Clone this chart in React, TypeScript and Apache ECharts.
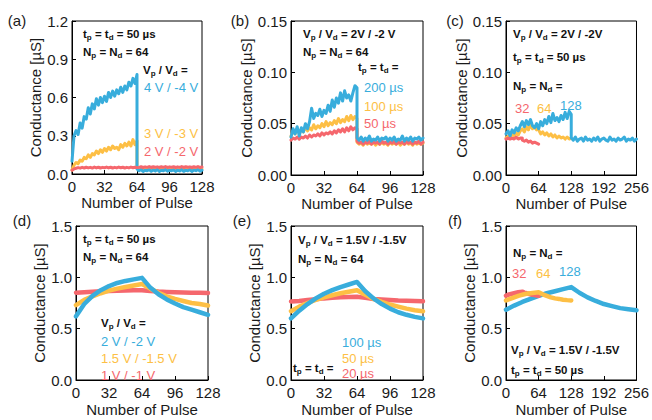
import React, { useEffect, useRef } from 'react';
import * as echarts from 'echarts';

const FONT = '"Liberation Sans", Arial, Helvetica, sans-serif';
const BLUE = '#38ADDC';
const ORANGE = '#FDBF45';
const RED = '#F5676D';
const INK = '#1a1a1a';

// ---------- Panel (a): Vp/Vd sweep, step 2 pulses ----------
const A_BLUE_POT = [0.10,0.30,0.34,0.31,0.40,0.36,0.45,0.43,0.52,0.47,0.55,0.51,0.59,0.54,0.60,0.56,0.61,0.57,0.64,0.60,0.65,0.61,0.66,0.63,0.68,0.64,0.69,0.66,0.72,0.69,0.75,0.71,0.78];
const A_BLUE_DEP = [0.04,0.025,0.035,0.02,0.03,0.026,0.034,0.021,0.032,0.024,0.036,0.02,0.029,0.025,0.035,0.022,0.03,0.026,0.033,0.02,0.031,0.024,0.035,0.021,0.03,0.025,0.034,0.02,0.031,0.026,0.035,0.022,0.03];
const A_YEL_POT = [0.03,0.07,0.09,0.08,0.11,0.10,0.13,0.12,0.15,0.13,0.16,0.15,0.18,0.16,0.19,0.17,0.20,0.18,0.21,0.19,0.22,0.20,0.21,0.19,0.23,0.21,0.24,0.22,0.25,0.22,0.27,0.23,0.26];
const A_YEL_DEP = [0.05,0.042,0.038,0.044,0.037,0.043,0.039,0.045,0.038,0.042,0.036,0.044,0.04,0.043,0.037,0.045,0.039,0.042,0.038,0.044,0.037,0.043,0.04,0.045,0.038,0.042,0.037,0.044,0.039,0.043,0.038,0.044,0.04];
const A_RED_POT = [0.03,0.04,0.045,0.05,0.046,0.052,0.047,0.053,0.048,0.052,0.047,0.054,0.048,0.053,0.047,0.052,0.049,0.054,0.048,0.053,0.047,0.052,0.048,0.054,0.049,0.053,0.047,0.052,0.048,0.054,0.049,0.053,0.05];
const A_RED_DEP = [0.055,0.052,0.057,0.051,0.056,0.052,0.058,0.051,0.057,0.053,0.056,0.051,0.057,0.052,0.058,0.051,0.056,0.053,0.057,0.051,0.056,0.052,0.058,0.051,0.057,0.053,0.056,0.051,0.057,0.052,0.058,0.051,0.055];

// ---------- Panel (b): pulse width sweep, step 2 pulses ----------
const B_BLUE_POT = [0.037,0.045,0.040,0.047,0.038,0.046,0.042,0.050,0.045,0.052,0.065,0.055,0.060,0.058,0.064,0.057,0.063,0.060,0.068,0.062,0.073,0.066,0.075,0.070,0.080,0.072,0.082,0.075,0.078,0.072,0.080,0.087,0.085];
const B_BLUE_DEP = [0.036,0.034,0.037,0.033,0.036,0.034,0.038,0.033,0.035,0.034,0.037,0.033,0.036,0.035,0.037,0.033,0.036,0.034,0.037,0.033,0.035,0.034,0.038,0.033,0.036,0.034,0.037,0.033,0.036,0.035,0.037,0.034,0.036];
const B_YEL_POT = [0.038,0.043,0.040,0.045,0.041,0.044,0.042,0.047,0.043,0.046,0.044,0.049,0.045,0.048,0.046,0.050,0.047,0.052,0.048,0.051,0.049,0.053,0.050,0.055,0.051,0.054,0.052,0.057,0.053,0.058,0.054,0.057,0.055];
const B_YEL_DEP = [0.032,0.030,0.031,0.029,0.032,0.030,0.031,0.030,0.032,0.029,0.031,0.030,0.032,0.030,0.031,0.029,0.032,0.030,0.031,0.030,0.032,0.029,0.031,0.030,0.032,0.030,0.031,0.029,0.032,0.030,0.031,0.030,0.031];
const B_RED_POT = [0.034,0.036,0.035,0.037,0.035,0.037,0.036,0.038,0.036,0.039,0.037,0.039,0.038,0.040,0.038,0.041,0.039,0.041,0.040,0.042,0.040,0.043,0.041,0.044,0.042,0.045,0.042,0.046,0.043,0.047,0.044,0.046,0.045];
const B_RED_DEP = [0.033,0.031,0.032,0.030,0.032,0.031,0.033,0.030,0.032,0.031,0.032,0.030,0.033,0.031,0.032,0.030,0.032,0.031,0.033,0.030,0.032,0.031,0.032,0.030,0.033,0.031,0.032,0.030,0.032,0.031,0.033,0.030,0.032];

// ---------- Panel (c): pulse number sweep, step 4 pulses ----------
const C_BLUE_POT = [0.040,0.043,0.038,0.044,0.041,0.046,0.043,0.048,0.052,0.047,0.053,0.049,0.054,0.048,0.046,0.050,0.045,0.052,0.048,0.054,0.050,0.057,0.051,0.060,0.053,0.056,0.052,0.058,0.054,0.061,0.055,0.062,0.059];
const C_BLUE_DEP = [0.036,0.034,0.037,0.033,0.035,0.036,0.033,0.037,0.034,0.035,0.033,0.036,0.034,0.037,0.033,0.035,0.036,0.034,0.033,0.037,0.034,0.035,0.033,0.036,0.034,0.035,0.037,0.033,0.035,0.034,0.036,0.033,0.035];
const C_YEL_POT = [0.036,0.038,0.037,0.040,0.038,0.041,0.039,0.043,0.045,0.042,0.047,0.044,0.049,0.045,0.047,0.044,0.046];
const C_YEL_DEP = [0.044,0.040,0.042,0.039,0.041,0.038,0.040,0.037,0.039,0.036,0.038,0.036,0.037,0.035,0.037,0.035,0.036];
const C_RED_POT = [0.035,0.036,0.035,0.036,0.035,0.037,0.035,0.036,0.036];
const C_RED_DEP = [0.034,0.033,0.034,0.032,0.033,0.031,0.032,0.031,0.030];

// ---------- Panel (d): step 8 pulses ----------
const D_BLUE = [0.62,0.74,0.82,0.875,0.915,0.945,0.965,0.98,0.995,0.90,0.835,0.785,0.745,0.71,0.685,0.66,0.635];
const D_YEL = [0.73,0.78,0.815,0.845,0.87,0.89,0.905,0.92,0.935,0.89,0.85,0.815,0.79,0.77,0.75,0.74,0.725];
const D_RED = [0.85,0.855,0.86,0.865,0.867,0.87,0.872,0.873,0.875,0.868,0.862,0.858,0.855,0.853,0.851,0.85,0.848];

// ---------- Panel (e): step 8 pulses ----------
const E_BLUE = [0.60,0.675,0.74,0.795,0.84,0.875,0.905,0.93,0.955,0.865,0.795,0.74,0.695,0.66,0.635,0.615,0.60];
const E_YEL = [0.67,0.715,0.75,0.78,0.805,0.825,0.845,0.86,0.875,0.83,0.79,0.76,0.735,0.715,0.695,0.68,0.67];
const E_RED = [0.765,0.77,0.78,0.787,0.795,0.80,0.805,0.808,0.81,0.80,0.79,0.785,0.78,0.775,0.772,0.77,0.768];

// ---------- Panel (f) ----------
const F_BLUE = [0.685,0.725,0.76,0.79,0.82,0.845,0.865,0.885,0.905,0.85,0.805,0.77,0.74,0.72,0.70,0.69,0.68]; // step 16
const F_YEL = [0.775,0.79,0.805,0.82,0.83,0.84,0.845,0.85,0.855,0.835,0.82,0.805,0.795,0.79,0.782,0.778,0.775]; // step 8
const F_RED = [0.82,0.83,0.835,0.84,0.845,0.85,0.855,0.858,0.86,0.852,0.845,0.84,0.835,0.83,0.827,0.823,0.82]; // step 4

const PANELS = [
  { left: 72, top: 21, width: 130, height: 153, xMax: 128, xInt: 32, yMax: 1.2, yInt: 0.3, dec: 1, yGap: 24, xGap: 19 },
  { left: 291, top: 21, width: 132, height: 154, xMax: 128, xInt: 32, yMax: 0.15, yInt: 0.05, dec: 2, yGap: 31, xGap: 19 },
  { left: 506, top: 21, width: 131, height: 154, xMax: 256, xInt: 64, yMax: 0.15, yInt: 0.05, dec: 2, yGap: 33, xGap: 19 },
  { left: 76, top: 226, width: 132, height: 154, xMax: 128, xInt: 32, yMax: 1.5, yInt: 0.5, dec: 1, yGap: 23, xGap: 22 },
  { left: 291, top: 226, width: 132, height: 154, xMax: 128, xInt: 32, yMax: 1.5, yInt: 0.5, dec: 1, yGap: 25, xGap: 22 },
  { left: 506, top: 226, width: 131, height: 154, xMax: 256, xInt: 64, yMax: 1.5, yInt: 0.5, dec: 1, yGap: 25, xGap: 22 },
];

const seq = (start: number, step: number, values: number[]) => values.map((v, i) => [start + i * step, v]);

const line = (g: number, color: string, data: number[][], width: number) => ({
  type: 'line',
  xAxisIndex: g,
  yAxisIndex: g,
  data,
  symbol: 'none',
  showSymbol: false,
  silent: true,
  lineStyle: { color, width, join: 'round', cap: 'round' },
  itemStyle: { color },
});

const richStyles = {
  b: { fontFamily: FONT, fontSize: 11.5, fontWeight: 'bold', fill: '#111', lineHeight: 15 },
  s: { fontFamily: FONT, fontSize: 8, fontWeight: 'bold', fill: '#111', lineHeight: 8, verticalAlign: 'bottom' },
};

const boldText = (x: number, y: number, str: string) => {
  const rich = str
    .split(/(_[a-z])/)
    .filter((p) => p.length > 0)
    .map((p) => (p.startsWith('_') ? `{s|${p.slice(1)}}` : `{b|${p}}`))
    .join('');
  return {
    type: 'text',
    x,
    y,
    silent: true,
    style: { text: rich, rich: richStyles, align: 'left', verticalAlign: 'middle' },
  };
};

const colText = (x: number, y: number, str: string, color: string) => ({
  type: 'text',
  x,
  y,
  silent: true,
  style: { text: str, fill: color, fontFamily: FONT, fontSize: 13, align: 'left', verticalAlign: 'middle' },
});

const panelLabel = (x: number, y: number, str: string) => ({
  type: 'text',
  x,
  y,
  silent: true,
  style: { text: str, fill: INK, fontFamily: FONT, fontSize: 15, align: 'center', verticalAlign: 'middle' },
});

function buildOption() {
  const grid = PANELS.map((p) => ({
    left: p.left,
    top: p.top,
    width: p.width,
    height: p.height,
    show: true,
    borderColor: '#000',
    borderWidth: 1,
    backgroundColor: 'transparent',
    containLabel: false,
  }));
  const xAxis = PANELS.map((p, i) => ({
    type: 'value',
    gridIndex: i,
    min: 0,
    max: p.xMax,
    interval: p.xInt,
    name: 'Number of Pulse',
    nameLocation: 'middle',
    nameGap: p.xGap,
    nameTextStyle: { fontFamily: FONT, fontSize: 15, color: INK },
    axisLine: { show: true, onZero: false, lineStyle: { color: '#000', width: 1 } },
    axisTick: { show: true, inside: true, length: 4, lineStyle: { color: '#000' } },
    axisLabel: { fontFamily: FONT, fontSize: 15, color: INK, margin: 5 },
    splitLine: { show: false },
  }));
  const yAxis = PANELS.map((p, i) => ({
    type: 'value',
    gridIndex: i,
    min: 0,
    max: p.yMax,
    interval: p.yInt,
    name: 'Conductance [µS]',
    nameLocation: 'middle',
    nameRotate: 90,
    nameGap: p.yGap,
    nameTextStyle: { fontFamily: FONT, fontSize: 15, color: INK },
    axisLine: { show: true, onZero: false, lineStyle: { color: '#000', width: 1 } },
    axisTick: { show: true, inside: true, length: 4, lineStyle: { color: '#000' } },
    axisLabel: { fontFamily: FONT, fontSize: 15, color: INK, margin: 4, formatter: (v: number) => v.toFixed(p.dec) },
    splitLine: { show: false },
  }));

  const series = [
    // (a)
    line(0, ORANGE, [...seq(0, 2, A_YEL_POT), ...seq(64, 2, A_YEL_DEP)], 3),
    line(0, BLUE, [...seq(0, 2, A_BLUE_POT), ...seq(64, 2, A_BLUE_DEP)], 3),
    line(0, RED, [...seq(0, 2, A_RED_POT), ...seq(64, 2, A_RED_DEP)], 3),
    // (b)
    line(1, ORANGE, [...seq(0, 2, B_YEL_POT), ...seq(64, 2, B_YEL_DEP)], 3),
    line(1, RED, [...seq(0, 2, B_RED_POT), ...seq(64, 2, B_RED_DEP)], 3),
    line(1, BLUE, [...seq(0, 2, B_BLUE_POT), ...seq(64, 2, B_BLUE_DEP)], 3),
    // (c)
    line(2, ORANGE, [...seq(0, 4, C_YEL_POT), ...seq(64, 4, C_YEL_DEP)], 3),
    line(2, BLUE, [...seq(0, 4, C_BLUE_POT), ...seq(128, 4, C_BLUE_DEP)], 3),
    line(2, RED, [...seq(0, 4, C_RED_POT), ...seq(32, 4, C_RED_DEP)], 3),
    // (d)
    line(3, RED, seq(0, 8, D_RED), 4.5),
    line(3, ORANGE, seq(0, 8, D_YEL), 4.5),
    line(3, BLUE, seq(0, 8, D_BLUE), 4.5),
    // (e)
    line(4, RED, seq(0, 8, E_RED), 4.5),
    line(4, ORANGE, seq(0, 8, E_YEL), 4.5),
    line(4, BLUE, seq(0, 8, E_BLUE), 4.5),
    // (f)
    line(5, BLUE, seq(0, 16, F_BLUE), 4.5),
    line(5, RED, seq(0, 4, F_RED), 4.5),
    line(5, ORANGE, seq(0, 8, F_YEL), 4.5),
  ];

  const graphic = [
    panelLabel(17, 20, '(a)'),
    panelLabel(240, 20, '(b)'),
    panelLabel(455, 20, '(c)'),
    panelLabel(22, 220, '(d)'),
    panelLabel(242, 220, '(e)'),
    panelLabel(455, 220, '(f)'),
    // (a)
    boldText(83, 34, 't_p = t_d = 50 µs'),
    boldText(83, 52, 'N_p = N_d = 64'),
    boldText(143, 70, 'V_p / V_d ='),
    colText(144, 87, '4 V / -4 V', BLUE),
    colText(144, 133, '3 V / -3 V', ORANGE),
    colText(144, 151, '2 V / -2 V', RED),
    // (b)
    boldText(303, 34, 'V_p / V_d = 2V / -2 V'),
    boldText(303, 52, 'N_p = N_d = 64'),
    boldText(358, 67, 't_p = t_d ='),
    colText(364, 87, '200 µs', BLUE),
    colText(364, 106, '100 µs', ORANGE),
    colText(364, 123, '50 µs', RED),
    // (c)
    boldText(513, 34, 'V_p / V_d = 2V / -2V'),
    boldText(513, 57, 't_p = t_d = 50 µs'),
    boldText(513, 86, 'N_p = N_d ='),
    colText(515, 108, '32', RED),
    colText(537, 108, '64', ORANGE),
    colText(560, 105, '128', BLUE),
    // (d)
    boldText(83, 239, 't_p = t_d = 50 µs'),
    boldText(83, 257, 'N_p = N_d = 64'),
    boldText(101, 323, 'V_p / V_d ='),
    colText(101, 341, '2 V / -2 V', BLUE),
    colText(101, 358, '1.5 V / -1.5 V', ORANGE),
    colText(101, 375, '1 V / -1 V', RED),
    // (e)
    boldText(298, 240, 'V_p / V_d = 1.5V / -1.5V'),
    boldText(298, 259, 'N_p = N_d = 64'),
    colText(342, 342, '100 µs', BLUE),
    colText(342, 358, '50 µs', ORANGE),
    colText(342, 373, '20 µs', RED),
    boldText(293, 368, 't_p = t_d ='),
    // (f)
    boldText(513, 253, 'N_p = N_d ='),
    colText(512, 273, '32', RED),
    colText(536, 273, '64', ORANGE),
    colText(559, 271, '128', BLUE),
    boldText(511, 350, 'V_p / V_d = 1.5V / -1.5V'),
    boldText(511, 370, 't_p = t_d = 50 µs'),
  ];

  return {
    animation: false,
    backgroundColor: '#ffffff',
    textStyle: { fontFamily: FONT },
    grid,
    xAxis,
    yAxis,
    series,
    graphic,
  };
}

export default function App() {
  const ref = useRef<HTMLDivElement>(null);
  useEffect(() => {
    if (!ref.current) return;
    const chart = echarts.init(ref.current, undefined, { renderer: 'svg', width: 652, height: 420 });
    chart.setOption(buildOption() as any);
    return () => chart.dispose();
  }, []);
  return (
    <div
      ref={ref}
      style={{ position: 'fixed', left: 0, top: 0, width: 652, height: 420, background: '#fff' }}
    />
  );
}
